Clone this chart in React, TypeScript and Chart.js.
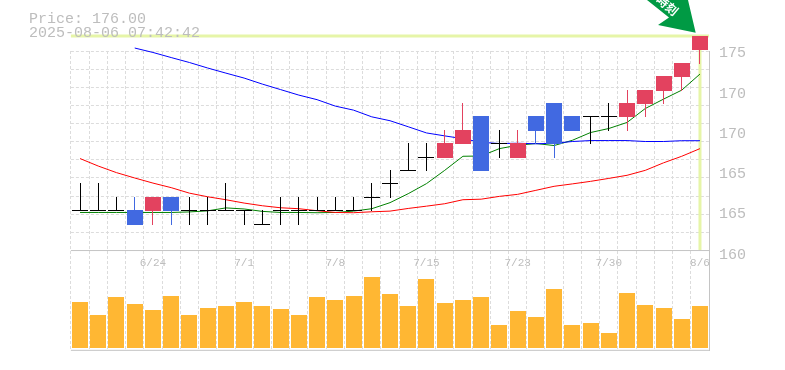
import React, { useEffect, useRef } from "react";
import { Chart, registerables } from "chart.js";

Chart.register(...registerables);

const dates = ["6/18","6/19","6/20","6/23","6/24","6/25","6/26","6/27","6/30","7/1","7/2","7/3","7/4","7/7","7/8","7/9","7/10","7/11","7/14","7/15","7/16","7/17","7/18","7/22","7/23","7/24","7/25","7/28","7/29","7/30","7/31","8/1","8/4","8/5","8/6"];
const opens = [163,163,163,163,163,164,163,163,163,163,162,163,163,163,163,163,164,165,166,167,167,168,170,168,167,170,171,170,170,170,170,171,172,173,175];
const closes = [163,163,163,162,164,163,163,163,163,163,162,163,163,163,163,163,164,165,166,167,168,169,166,168,168,169,168,169,170,170,171,172,173,174,176];
const highs = [165,165,164,164,164,164,164,164,165,163,163,164,164,164,164,164,165,166,168,168,169,171,170,169,169,170,171,170,170,171,172,172,173,174,176];
const lows = [163,163,163,162,162,162,162,162,163,162,162,162,162,163,163,163,163,164,166,166,167,168,166,167,167,168,167,169,168,169,169,170,171,172,174];
const maShort = [162.84,162.84,162.84,162.84,162.84,162.84,162.88,162.96,163.18,163.10,162.92,162.84,162.84,162.82,162.84,162.94,163.12,163.57,164.24,164.99,165.98,167.03,167.05,167.60,167.85,167.98,167.83,168.22,168.80,169.10,169.55,170.59,171.29,171.96,173.16];
const maMiddle = [166.86,166.30,165.81,165.41,165.03,164.69,164.28,164.01,163.79,163.54,163.34,163.19,163.12,162.97,162.84,162.82,162.89,162.94,163.14,163.31,163.49,163.79,163.83,164.04,164.19,164.49,164.79,164.97,165.16,165.38,165.61,165.98,166.54,167.03,167.60];
const maLong = [null,null,null,175.10,174.77,174.39,174.02,173.61,173.23,172.86,172.41,172.00,171.59,171.25,170.77,170.47,169.97,169.68,169.23,168.77,168.55,168.34,168.07,167.98,168.00,167.96,168.00,168.13,168.20,168.20,168.20,168.13,168.13,168.19,168.19];
const volumes = [46,33,51,44,38,52,33,40,42,46,42,39,33,51,48,52,71,54,42,69,45,48,51,23,37,31,59,23,25,15,55,43,40,29,42];
const priceLabels = [175,172,169,166,163,160];
const priceText = "Price: 176.00";
const stampText = "2025-08-06 07:42:42";
const arrowText = "時刻";

const GREY = "#c4c4c4";
const GRID = "#dcdcdc";
const UP = "#e3425f";
const DOWN = "#4169e1";
const MONO = "'Liberation Mono', 'DejaVu Sans Mono', monospace";

const candleColor = (i: number) => (closes[i] > opens[i] ? UP : closes[i] < opens[i] ? DOWN : "#000000");
const indexes = dates.map((_, i) => i);

const priceScaleTop = 176 - 15 / 13.375;
const gridValues = Array.from({ length: 11 }, (_, k) => priceScaleTop - (k * (priceScaleTop - 160)) / 11);

const snap: any = {
  id: "snap",
  afterDatasetsUpdate(chart: any) {
    chart.data.datasets.forEach((ds: any, di: number) => {
      if (!ds.snapKind) return;
      chart.getDatasetMeta(di).data.forEach((el: any) => {
        if (ds.snapKind === "wick") {
          el.x = Math.floor(el.x) + 0.5;
          el.width = 1;
        } else {
          el.x = Math.round(el.x);
          el.width = 16;
        }
        const top = Math.round(Math.min(el.y, el.base));
        const bottom = Math.round(Math.max(el.y, el.base));
        el.y = top;
        el.base = bottom + (ds.snapKind === "volume" ? 0 : 1);
      });
    });
  },
};

const decorations: any = {
  id: "decorations",
  afterDraw(chart: any) {
    const c = chart.ctx;
    c.save();
    c.fillStyle = "#bdbdbd";
    c.font = `15px ${MONO}`;
    c.textBaseline = "alphabetic";
    c.textAlign = "left";
    c.fillText(priceText, 29, 23);
    c.fillText(stampText, 29, 37);
    c.beginPath();
    c.moveTo(647, 0);
    c.lineTo(669, 17.5);
    c.lineTo(658, 25);
    c.lineTo(695.7, 32.7);
    c.lineTo(688, 0);
    c.closePath();
    c.fillStyle = "#009a44";
    c.fill();
    c.translate(672, 9);
    c.rotate((40 * Math.PI) / 180);
    c.fillStyle = "#ffffff";
    c.font = "bold 12px 'Noto Sans CJK JP'";
    c.textAlign = "right";
    c.textBaseline = "middle";
    c.fillText(arrowText, 6, 0);
    c.restore();
  },
};

export default function App() {
  const ref = useRef<HTMLCanvasElement>(null);
  useEffect(() => {
    const chart = new Chart(ref.current!, {
      type: "bar",
      plugins: [snap, decorations],
      data: {
        labels: dates,
        datasets: [
          { type: "line", label: "top mark", xAxisID: "xFrame", data: [{ x: -0.5, y: 176 }, { x: 34.5, y: 176 }], borderColor: "#e6f5a8", borderWidth: 3, pointRadius: 0, clip: false, order: 9 },
          { type: "line", label: "now mark", xAxisID: "xFrame", data: [{ x: 34, y: 176 }, { x: 34, y: 160 }], borderColor: "#e6f5a8", borderWidth: 3, pointRadius: 0, clip: false, order: 9 },
          { type: "line", label: "panel top", xAxisID: "xFrame", yAxisID: "y2", data: [{ x: -0.5, y: 97.67 }, { x: 34.5, y: 97.67 }], borderColor: GREY, borderWidth: 1, pointRadius: 0, clip: false, order: 8 },
          { type: "line", label: "panel bottom", xAxisID: "xFrame", yAxisID: "y2", data: [{ x: -0.5, y: -2 }, { x: 34.5, y: -2 }], borderColor: GREY, borderWidth: 1, pointRadius: 0, clip: false, order: 8 },
          { type: "line", label: "MA long", data: maLong, borderColor: "#0000ff", borderWidth: 1, pointRadius: 0, order: 5, clip: false },
          { type: "line", label: "MA middle", data: maMiddle, borderColor: "#ff0000", borderWidth: 1, pointRadius: 0, order: 5, clip: false },
          { type: "line", label: "MA short", data: maShort, borderColor: "#008000", borderWidth: 1, pointRadius: 0, order: 5, clip: false },
          { label: "wick", snapKind: "wick", data: indexes.map((i) => [lows[i], highs[i]]), backgroundColor: indexes.map(candleColor), barThickness: 1, inflateAmount: 0, grouped: false, clip: false, order: 3 },
          { label: "body", snapKind: "body", data: indexes.map((i) => [opens[i], closes[i]]), backgroundColor: indexes.map(candleColor), barThickness: 16, inflateAmount: 0, grouped: false, clip: false, order: 2 },
          { label: "volume", snapKind: "volume", yAxisID: "y2", data: volumes, backgroundColor: "#ffb733", barThickness: 16, inflateAmount: 0, grouped: false, order: 2 },
        ] as any,
      },
      options: {
        animation: false,
        responsive: false,
        layout: { padding: { left: 70.9, top: 51, bottom: 19.67, right: 0 } },
        plugins: { legend: { display: false }, tooltip: { enabled: false } },
        scales: {
          x: {
            position: { y2: 97.67 } as any,
            offset: true,
            grid: { offset: true, color: GRID, lineWidth: 1, drawTicks: false, tickLength: 0 },
            border: { display: false, dash: [3, 2] },
            ticks: {
              autoSkip: false,
              maxRotation: 0,
              minRotation: 0,
              padding: 6,
              color: "#bdbdbd",
              font: { family: MONO, size: 11 },
              callback: (_: any, i: number) => (i % 5 === 4 ? dates[i] : ""),
            },
          },
          xFrame: { type: "linear", display: false, offset: false, position: { y2: -2 } as any, min: -0.5, max: 34.5 },
          y: {
            position: "right",
            stack: "panels",
            stackWeight: 2,
            min: 160,
            max: priceScaleTop,
            afterFit: (s: any) => { s.width = 75.9; },
            afterBuildTicks: (s: any) => {
              s.ticks = [...gridValues.map((value) => ({ value })), ...priceLabels.map((value) => ({ value, major: true }))];
            },
            grid: {
              drawTicks: false,
              color: (ctx: any) => (ctx.tick && ctx.tick.major ? "rgba(0,0,0,0)" : GRID),
            },
            border: { display: true, color: GREY, dash: [3, 2] },
            ticks: {
              autoSkip: false,
              padding: 10,
              labelOffset: 4,
              color: "#bdbdbd",
              font: { family: MONO, size: 15 },
              callback: (v: any, i: number, all: any[]) => (all[i].major ? String(Math.round(v / 5) * 5) : ""),
            },
          },
          y2: {
            position: "right",
            stack: "panels",
            stackWeight: 1,
            min: -2,
            max: 97.67,
            afterFit: (s: any) => { s.width = 75.9; },
            grid: { display: false },
            border: { display: true, color: GREY },
            ticks: { display: false },
          },
        },
      } as any,
    });
    return () => chart.destroy();
  }, []);
  return (
    <div style={{ position: "fixed", left: 0, top: 0, width: 785, height: 370, background: "#fff" }}>
      <canvas ref={ref} width={785} height={370} style={{ display: "block" }} />
    </div>
  );
}
